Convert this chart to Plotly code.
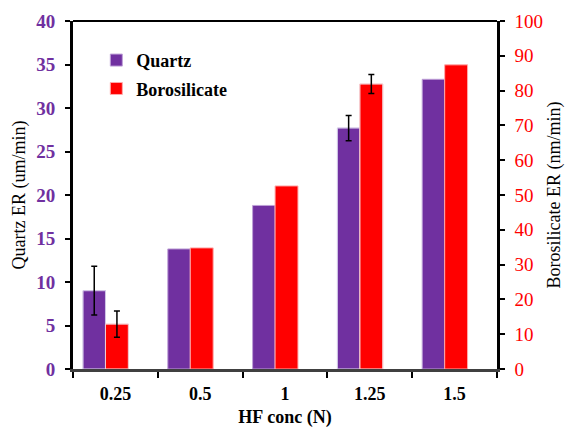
import plotly.graph_objects as go

categories = ["0.25", "0.5", "1", "1.25", "1.5"]
quartz_er = [9.0, 13.8, 18.8, 27.7, 33.3]
boro_er = [12.9, 34.8, 52.6, 81.9, 87.4]
# error bars exist only for these categories
err_categories = ["0.25", "1.25"]
quartz_err = [2.8, 1.45]
boro_err = [3.8, 2.7]

PURPLE = "#7030A0"
RED = "#FF0000"
FONT = "Liberation Serif, Times New Roman, serif"

Q_W, Q_OFF = 0.265, -0.382
B_W, B_OFF = 0.27, -0.117

fig = go.Figure()
fig.add_trace(go.Bar(
    x=categories, y=quartz_er, name="Quartz",
    marker=dict(color=PURPLE, line=dict(color="rgba(190,160,215,1)", width=1)),
    width=Q_W, offset=Q_OFF, legendgroup="a",
))
fig.add_trace(go.Bar(
    x=categories, y=boro_er, name="Borosilicate", yaxis="y2",
    marker=dict(color=RED, line=dict(color="rgba(255,170,170,1)", width=1)),
    width=B_W, offset=B_OFF, legendgroup="b",
))
q_err_y = [quartz_er[categories.index(c)] for c in err_categories]
b_err_y = [boro_er[categories.index(c)] for c in err_categories]
fig.add_trace(go.Bar(
    x=err_categories, y=q_err_y, showlegend=False, hoverinfo="skip",
    marker=dict(color="rgba(0,0,0,0)"), width=Q_W, offset=Q_OFF,
    error_y=dict(type="data", array=quartz_err, color="black", thickness=1.5, width=3),
))
fig.add_trace(go.Bar(
    x=err_categories, y=b_err_y, showlegend=False, hoverinfo="skip", yaxis="y2",
    marker=dict(color="rgba(0,0,0,0)"), width=B_W, offset=B_OFF,
    error_y=dict(type="data", array=boro_err, color="black", thickness=1.5, width=3),
))

fig.update_layout(
    width=566, height=428,
    margin=dict(l=73, r=69, t=21, b=59),
    paper_bgcolor="white", plot_bgcolor="white",
    barmode="overlay",
    font=dict(family=FONT, color="black"),
    showlegend=True,
    legend=dict(
        x=0.055, y=0.94, xanchor="left", yanchor="top",
        bgcolor="rgba(0,0,0,0)",
        font=dict(family=FONT, size=18, weight="bold", color="black"),
        traceorder="grouped", tracegroupgap=2, itemwidth=30,
    ),
    xaxis=dict(
        type="category", automargin=False,
        showline=True, linecolor="#404040", linewidth=3,
        tickson="boundaries", ticks="outside", ticklen=6, tickwidth=2, tickcolor="black",
        ticklabelstandoff=6,
        tickfont=dict(family=FONT, size=18, weight="bold", color="black"),
        title=dict(text="HF conc (N)", font=dict(family=FONT, size=18, weight="bold", color="black"), standoff=10),
        showgrid=False, zeroline=False,
    ),
    yaxis=dict(
        range=[0, 40], dtick=5, automargin=False,
        showline=True, linecolor="black", linewidth=3,
        ticks="outside", ticklen=5, tickwidth=2, tickcolor="black",
        ticklabelstandoff=6,
        tickfont=dict(family=FONT, size=19, weight="bold", color=PURPLE),
        title=dict(text="Quartz ER (um/min)", font=dict(family=FONT, size=18, color="black"), standoff=6),
        showgrid=False, zeroline=False,
    ),
    yaxis2=dict(
        range=[0, 100], dtick=10, overlaying="y", side="right", automargin=False,
        showline=True, linecolor="black", linewidth=2.5,
        ticks="outside", ticklen=5, tickwidth=2, tickcolor="black",
        ticklabelstandoff=6,
        tickfont=dict(family=FONT, size=19, color=RED),
        title=dict(text="Borosilicate ER (nm/min)", font=dict(family=FONT, size=18, color="black"), standoff=6),
        showgrid=False, zeroline=False,
    ),
    shapes=[dict(type="line", xref="paper", yref="paper", x0=0, x1=1, y0=1, y1=1,
                 line=dict(color="black", width=2))],
)

fig.write_html("out.html")
